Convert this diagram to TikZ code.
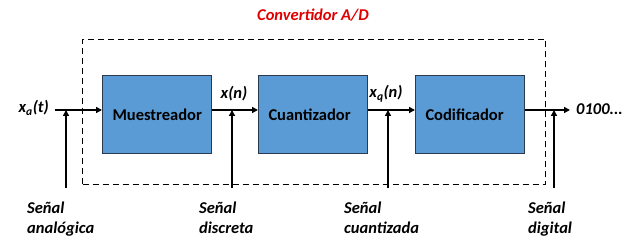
\documentclass[tikz,border=0pt]{standalone}
\usepackage{fontspec}
\setmainfont{Carlito}
\usetikzlibrary{arrows.meta}
\definecolor{blockfill}{HTML}{5B9BD5}
\definecolor{blockline}{HTML}{2B3A4E}
\definecolor{titlered}{HTML}{E00000}
\begin{document}
\begin{tikzpicture}[x=1pt,y=-1pt,
  block/.style={draw=blockline,line width=1pt,fill=blockfill,minimum width=109pt,minimum height=78pt,
    inner sep=0pt,font=\fontsize{16.5}{18}\selectfont\bfseries,anchor=north west,text width=99pt,align=left},
  sig/.style={line width=2pt,-{Triangle[length=6pt,width=6pt]}},
  lbl/.style={font=\fontsize{16.5}{18}\selectfont\bfseries\itshape,inner sep=0pt},
  note/.style={font=\fontsize{16.5}{20}\selectfont\bfseries\itshape,inner sep=0pt,align=left,anchor=north west}]
\useasboundingbox (0,0) rectangle (633,248);
% converter boundary
\node[draw,dashed,line width=1pt,dash pattern=on 6pt off 4pt,minimum width=463pt,minimum height=145pt,
  anchor=north west,inner sep=0pt] (adc) at (82,39) {};
\node[lbl,text=titlered] (title) at (313,15) {Convertidor A/D};
% processing blocks
\node[block] (mue) at (102,75) {\hspace*{5pt}Muestreador};
\node[block] (cua) at (258,75) {\hspace*{5pt}Cuantizador};
\node[block] (cod) at (415,75) {\hspace*{5pt}Codificador};
% signal path
\coordinate (in) at (55,110);
\coordinate (out) at (570,110);
\node[lbl,anchor=east] (xa) at (49,108) {x\textsubscript{a}(t)};
\node[lbl] (xn) at (234,94) {x(n)};
\node[lbl] (xq) at (386,94) {x\textsubscript{q}(n)};
\node[lbl,anchor=west] (bits) at (576,109) {0100...};
\draw[sig] (in) -- (mue.west |- in);
\draw[sig] (mue.east |- in) -- (cua.west |- in);
\draw[sig] (cua.east |- in) -- (cod.west |- in);
\draw[sig] (cod.east |- in) -- (out);
% signal taps
\coordinate (t1) at (66,188);
\coordinate (t2) at (232,188);
\coordinate (t3) at (388,188);
\coordinate (t4) at (554,188);
\foreach \t in {t1,t2,t3,t4} \draw[sig] (\t) -- (\t |- in);
% signal names
\node[note] (n1) at (27,202) {Señal\\analógica};
\node[note] (n2) at (199,202) {Señal\\discreta};
\node[note] (n3) at (344,202) {Señal\\cuantizada};
\node[note] (n4) at (528,202) {Señal\\digital};
\end{tikzpicture}
\end{document}
